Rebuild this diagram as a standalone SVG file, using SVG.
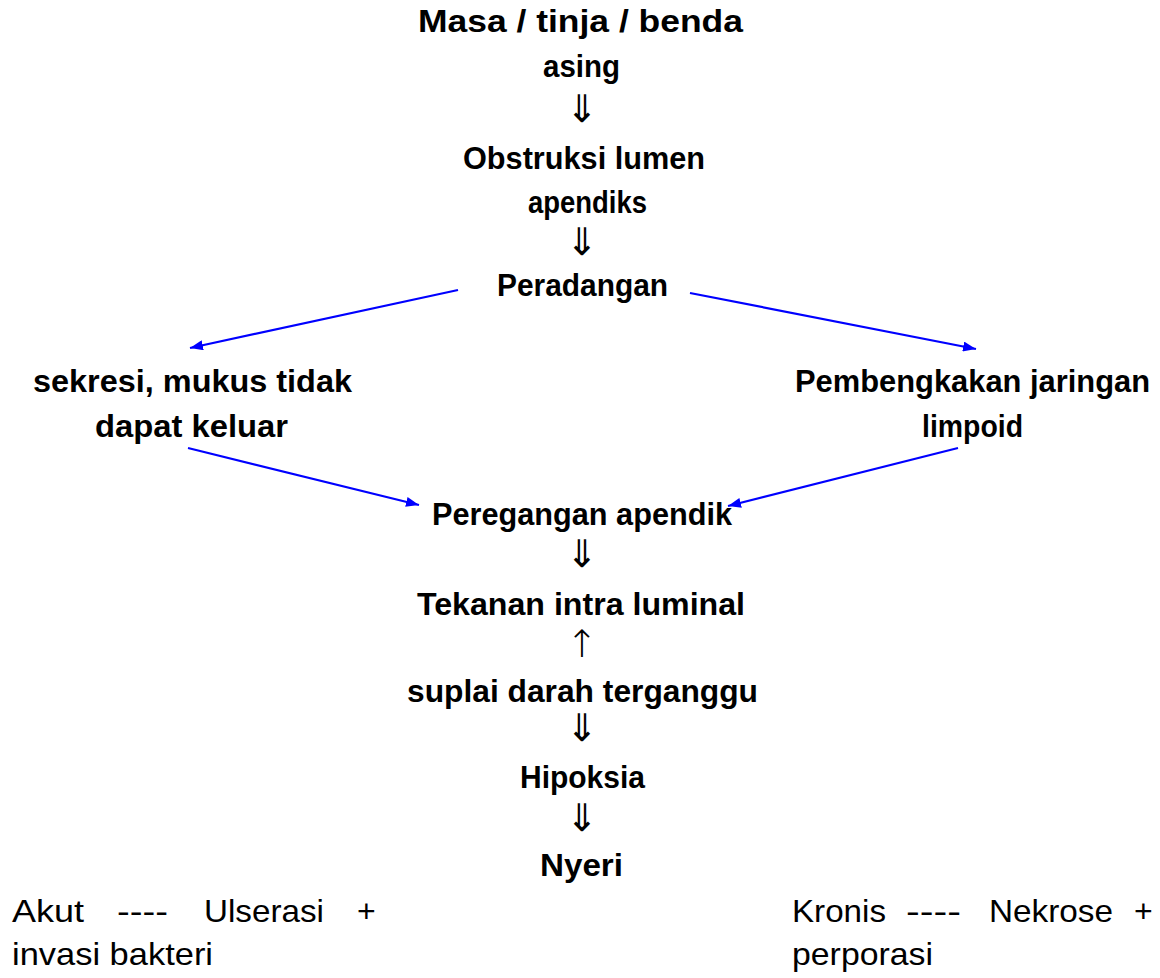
<svg xmlns="http://www.w3.org/2000/svg" width="1160" height="978" viewBox="0 0 1160 978">
<style>
.b{font-family:"Liberation Sans",Arial,sans-serif;font-weight:bold;font-size:31px;fill:#000}
.n{font-family:"Liberation Sans",Arial,sans-serif;font-size:32px;fill:#000}
.ar{font-family:"DejaVu Sans",sans-serif;font-weight:200;font-size:38px;fill:#000;text-anchor:middle}
.bl{stroke:#0000FF;stroke-width:2.2;fill:none;marker-end:url(#ah)}
</style>
<defs>
<marker id="ah" markerUnits="userSpaceOnUse" markerWidth="14" markerHeight="10" refX="13" refY="5" orient="auto">
<path d="M0,0 L13,5 L0,10 Z" fill="#0000FF"/>
</marker>
</defs>
<rect width="1160" height="978" fill="#fff"/>
<g id="n1"><text class="b" x="418" y="32" textLength="325" lengthAdjust="spacingAndGlyphs">Masa / tinja / benda</text><text class="b" x="543" y="77" textLength="77" lengthAdjust="spacingAndGlyphs">asing</text></g>
<g id="n2"><text class="b" x="463" y="169" textLength="242" lengthAdjust="spacingAndGlyphs">Obstruksi lumen</text><text class="b" x="528" y="213" textLength="119" lengthAdjust="spacingAndGlyphs">apendiks</text></g>
<g id="n3"><text class="b" x="497" y="296" textLength="171" lengthAdjust="spacingAndGlyphs">Peradangan</text></g>
<g id="n4"><text class="b" x="33" y="392" textLength="319" lengthAdjust="spacingAndGlyphs">sekresi, mukus tidak</text><text class="b" x="95" y="437" textLength="193" lengthAdjust="spacingAndGlyphs">dapat keluar</text></g>
<g id="n5"><text class="b" x="795" y="392" textLength="355" lengthAdjust="spacingAndGlyphs">Pembengkakan jaringan</text><text class="b" x="922" y="437" textLength="101" lengthAdjust="spacingAndGlyphs">limpoid</text></g>
<g id="n6"><text class="b" x="432" y="525" textLength="300" lengthAdjust="spacingAndGlyphs">Peregangan apendik</text></g>
<g id="n7"><text class="b" x="417" y="615" textLength="328" lengthAdjust="spacingAndGlyphs">Tekanan intra luminal</text></g>
<g id="n8"><text class="b" x="407" y="702" textLength="351" lengthAdjust="spacingAndGlyphs">suplai darah terganggu</text></g>
<g id="n9"><text class="b" x="520" y="788" textLength="125" lengthAdjust="spacingAndGlyphs">Hipoksia</text></g>
<g id="n10"><text class="b" x="540" y="876" textLength="83" lengthAdjust="spacingAndGlyphs">Nyeri</text></g>
<g id="n11">
<text class="n" x="12" y="922" textLength="72" lengthAdjust="spacingAndGlyphs">Akut</text>
<text class="n" x="117" y="922" textLength="51" lengthAdjust="spacingAndGlyphs">----</text>
<text class="n" x="204" y="922" textLength="120" lengthAdjust="spacingAndGlyphs">Ulserasi</text>
<text class="n" x="357" y="922">+</text>
<text class="n" x="12" y="965" textLength="201" lengthAdjust="spacingAndGlyphs">invasi bakteri</text>
</g>
<g id="n12">
<text class="n" x="792" y="922" textLength="94" lengthAdjust="spacingAndGlyphs">Kronis</text>
<text class="n" x="906" y="922" textLength="55" lengthAdjust="spacingAndGlyphs">----</text>
<text class="n" x="989" y="922" textLength="124" lengthAdjust="spacingAndGlyphs">Nekrose</text>
<text class="n" x="1134" y="922">+</text>
<text class="n" x="792" y="965" textLength="141" lengthAdjust="spacingAndGlyphs">perporasi</text>
</g>
<g id="connectors">
<text class="ar" x="582" y="122">⇓</text>
<text class="ar" x="582" y="255">⇓</text>
<text class="ar" x="582" y="567">⇓</text>
<text class="ar" x="582" y="657">↑</text>
<text class="ar" x="582" y="741">⇓</text>
<text class="ar" x="582" y="831">⇓</text>
<line class="bl" x1="458" y1="290" x2="190" y2="348"/>
<line class="bl" x1="690" y1="293" x2="976" y2="349"/>
<line class="bl" x1="188" y1="448" x2="419" y2="505"/>
<line class="bl" x1="958" y1="448" x2="728" y2="506"/>
</g>
</svg>
